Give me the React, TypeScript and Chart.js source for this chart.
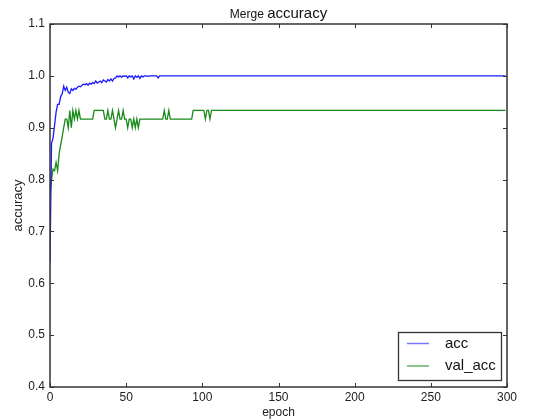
import React, { useEffect, useRef } from "react";
import { Chart, registerables } from "chart.js";
Chart.register(...registerables);

// ---- data ----
const accEpochs = [
  0, 1, 2, 3, 4, 5, 6, 7, 8, 9, 10, 11, 12, 13, 14, 15, 16, 17, 18, 19, 20,
  21, 22, 23, 24, 25, 26, 27, 28, 29, 30, 31, 32, 33, 34, 35, 36, 37, 38, 39,
  40, 41, 42, 43, 44, 45, 46, 47, 48, 49, 50, 51, 52, 53, 54, 55, 56, 57, 58,
  59, 60, 61, 62, 63, 64, 65, 70, 71, 72, 299,
];
const accValues = [
  0.64, 0.87, 0.88, 0.905, 0.93, 0.945, 0.945, 0.96, 0.965, 0.98, 0.972,
  0.978, 0.968, 0.966, 0.975, 0.972, 0.976, 0.974, 0.978, 0.98, 0.979, 0.982,
  0.984, 0.983, 0.985, 0.982, 0.986, 0.984, 0.987, 0.985, 0.99, 0.986, 0.988,
  0.99, 0.987, 0.992, 0.99, 0.988, 0.993, 0.99, 0.994, 0.99, 0.995, 0.996,
  1.0, 0.998, 1.0, 0.997, 1.0, 0.999, 1.0, 0.996, 1.0, 0.998, 1.0, 0.994, 1.0,
  0.997, 1.0, 0.995, 1.0, 0.998, 1.0, 1.0, 0.999, 1.0, 1.0, 0.996, 1.0, 1.0,
];
const valEpochs = [
  0, 1, 2, 3, 4, 5, 6, 7, 8, 9, 10, 11, 12, 13, 14, 15, 16, 17, 18, 19, 20,
  28, 29, 35, 36, 37, 38, 39, 40, 41, 42, 43, 44, 45, 46, 47, 48, 49, 50, 51,
  52, 53, 54, 55, 56, 57, 58, 59, 74, 75, 76, 77, 78, 79, 93, 94, 101, 102,
  103, 104, 105, 106, 299,
];
const valValues = [
  0.77, 0.8, 0.82, 0.817, 0.833, 0.817, 0.85, 0.867, 0.883, 0.9, 0.9167,
  0.9167, 0.9, 0.9333, 0.9, 0.9333, 0.9167, 0.9333, 0.9167, 0.9333, 0.9167,
  0.9167, 0.9333, 0.9333, 0.9167, 0.9167, 0.9333, 0.9167, 0.9167, 0.9333,
  0.9167, 0.9, 0.9167, 0.9333, 0.9167, 0.9167, 0.9333, 0.9167, 0.9167, 0.9,
  0.9167, 0.9167, 0.9, 0.9167, 0.9, 0.9167, 0.9, 0.9167, 0.9167, 0.9333,
  0.9167, 0.9167, 0.9333, 0.9167, 0.9167, 0.9333, 0.9333, 0.9167, 0.9333,
  0.9333, 0.9167, 0.9333, 0.9333,
];
const seriesLabels = ["acc", "val_acc"];
const seriesColors = ["#1a1aff", "#1a8a1a"];
const xTickValues = [0, 50, 100, 150, 200, 250, 300];
const yTickValues = [0.4, 0.5, 0.6, 0.7, 0.8, 0.9, 1.0, 1.1];
const titleSmall = "Merge";
const titleLarge = "accuracy";
const xTitle = "epoch";
const yTitle = "accuracy";

const FONT = "'Liberation Sans', Arial, sans-serif";

const framePlugin = {
  id: "frame",
  afterDatasetsDraw(chart: any) {
    const { ctx, chartArea: a, scales } = chart;
    ctx.save();
    ctx.strokeStyle = "#333";
    ctx.lineWidth = 1;
    const tl = 4;
    ctx.beginPath();
    for (const v of xTickValues) {
      const px = Math.round(scales.x.getPixelForValue(v)) + 0.5;
      ctx.moveTo(px, a.bottom);
      ctx.lineTo(px, a.bottom - tl);
      ctx.moveTo(px, a.top);
      ctx.lineTo(px, a.top + tl);
    }
    for (const v of yTickValues) {
      const py = Math.round(scales.y.getPixelForValue(v)) + 0.5;
      ctx.moveTo(a.left, py);
      ctx.lineTo(a.left + tl, py);
      ctx.moveTo(a.right, py);
      ctx.lineTo(a.right - tl, py);
    }
    ctx.stroke();
    ctx.strokeStyle = "#333";
    ctx.lineWidth = 1.5;
    ctx.strokeRect(a.left, a.top, a.right - a.left, a.bottom - a.top);
    ctx.restore();
  },
};

const titlePlugin = {
  id: "mixedTitle",
  afterDraw(chart: any) {
    const { ctx, chartArea: a } = chart;
    ctx.save();
    ctx.fillStyle = "#111";
    ctx.textBaseline = "alphabetic";
    const f1 = `12px ${FONT}`;
    const f2 = `15px ${FONT}`;
    ctx.font = f1;
    const w1 = ctx.measureText(titleSmall + " ").width;
    ctx.font = f2;
    const w2 = ctx.measureText(titleLarge).width;
    const cx = (a.left + a.right) / 2;
    const start = cx - (w1 + w2) / 2;
    ctx.textAlign = "left";
    ctx.font = f1;
    ctx.fillText(titleSmall, start, 18);
    ctx.font = f2;
    ctx.fillText(titleLarge, start + w1, 18);
    ctx.restore();
  },
};

const legendPlugin = {
  id: "boxLegend",
  afterDraw(chart: any) {
    const { ctx } = chart;
    ctx.save();
    const bx = 398, by = 332, bw = 103, bh = 48;
    ctx.fillStyle = "#fff";
    ctx.fillRect(bx, by, bw, bh);
    ctx.strokeStyle = "#333";
    ctx.lineWidth = 1.3;
    ctx.strokeRect(bx + 0.5, by + 0.5, bw, bh);
    ctx.font = `15px ${FONT}`;
    ctx.textBaseline = "middle";
    ctx.textAlign = "left";
    const legendColors = ["#7777ff", "#66b366"];
    chart.data.datasets.forEach((ds: any, i: number) => {
      const y = by + 11.5 + i * 22.5;
      ctx.strokeStyle = legendColors[i];
      ctx.lineWidth = 1.5;
      ctx.beginPath();
      ctx.moveTo(bx + 9, y);
      ctx.lineTo(bx + 31, y);
      ctx.stroke();
      ctx.fillStyle = "#111";
      ctx.fillText(ds.label, bx + 47, y);
    });
    ctx.restore();
  },
};

export default function App() {
  const ref = useRef<HTMLCanvasElement>(null);
  useEffect(() => {
    document.body.style.margin = "0";
    const canvas = ref.current!;
    const chart = new Chart(canvas, {
      type: "line",
      data: {
        datasets: [
          {
            label: seriesLabels[0],
            data: accEpochs.map((x, i) => ({ x, y: accValues[i] })),
            borderColor: seriesColors[0],
            borderWidth: 1.3,
            pointRadius: 0,
            tension: 0,
            fill: false,
          },
          {
            label: seriesLabels[1],
            data: valEpochs.map((x, i) => ({ x, y: valValues[i] })),
            borderColor: seriesColors[1],
            borderWidth: 1.3,
            pointRadius: 0,
            tension: 0,
            fill: false,
          },
        ],
      },
      options: {
        responsive: false,
        animation: false,
        layout: { padding: { left: 0, right: 28, top: 24, bottom: 0 } },
        plugins: {
          legend: { display: false },
          title: { display: false },
          tooltip: { enabled: false },
        },
        scales: {
          x: {
            type: "linear",
            min: 0,
            max: 300,
            grid: { display: false, drawTicks: false },
            border: { display: false },
            afterBuildTicks: (s: any) => {
              s.ticks = xTickValues.map((v) => ({ value: v }));
            },
            ticks: {
              padding: 3,
              maxRotation: 0,
              autoSkip: false,
              color: "#222",
              font: { family: FONT, size: 12 },
              callback: (v: any) => String(v),
            },
            title: {
              display: true,
              text: xTitle,
              color: "#222",
              font: { family: FONT, size: 12 },
              padding: { top: 0, bottom: 0 },
            },
            afterFit: (s: any) => {
              s.height = 33;
            },
          },
          y: {
            type: "linear",
            min: 0.4,
            max: 1.1,
            grid: { display: false, drawTicks: false },
            border: { display: false },
            afterBuildTicks: (s: any) => {
              s.ticks = yTickValues.map((v) => ({ value: v }));
            },
            ticks: {
              padding: 5,
              autoSkip: false,
              color: "#222",
              font: { family: FONT, size: 12 },
              callback: (v: any) => Number(v).toFixed(1),
            },
            title: {
              display: true,
              text: yTitle,
              color: "#222",
              font: { family: FONT, size: 13 },
              padding: { top: 11, bottom: 0 },
            },
            afterFit: (s: any) => {
              s.width = 50;
            },
          },
        },
      },
      plugins: [framePlugin, titlePlugin, legendPlugin],
    });
    return () => chart.destroy();
  }, []);
  return (
    <div style={{ width: 535, height: 420 }}>
      <canvas ref={ref} width={535} height={420} style={{ display: "block" }} />
    </div>
  );
}
